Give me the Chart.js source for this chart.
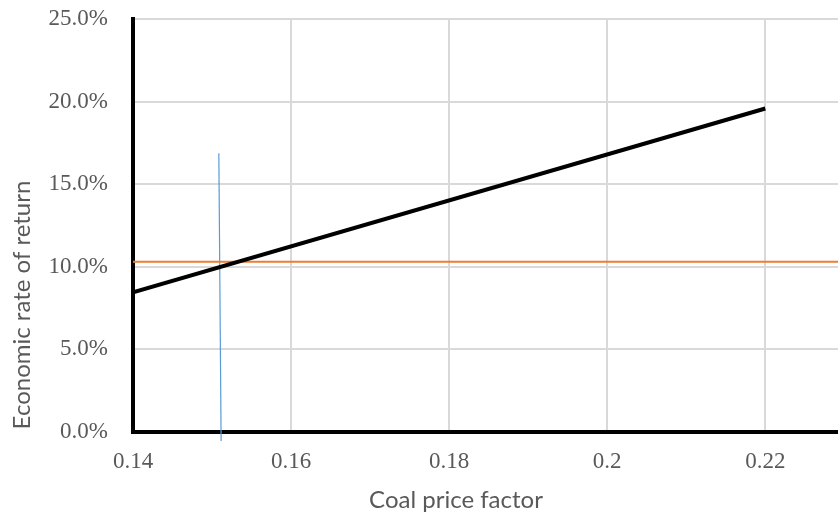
<!DOCTYPE html>
<html>
<head>
<meta charset="utf-8">
<script src="https://cdn.jsdelivr.net/npm/chart.js@4/dist/chart.umd.min.js"></script>
<style>
  body { margin: 0; background: #fff; }
  #wrap { width: 838px; height: 515px; }
</style>
</head>
<body>
<div id="wrap"><canvas id="myChart" width="838" height="515"></canvas></div>
<script>
// data
const coalFactor = [0.14, 0.22];
const returnRate = [8.45, 19.58];
const hurdleX = [0.14, 0.2292];
const hurdleRate = [10.3, 10.3];
const breakevenX = [0.15086, 0.15115];
const breakevenY = [16.87, -0.55];
const xTicks = [0.14, 0.16, 0.18, 0.2, 0.22];
const yTicks = [0, 5, 10, 15, 20, 25];

function toPoints(xs, ys) {
    return xs.map((x, i) => ({ x: x, y: ys[i] }));
}

// axis titles sit off-centre in the original, so draw them by hand
const axisTitles = {
    id: 'axisTitles',
    afterDraw(chart) {
        const ctx = chart.ctx;
        ctx.save();
        ctx.fillStyle = '#595959';
        ctx.font = '24px Lato';
        ctx.textAlign = 'center';
        ctx.textBaseline = 'middle';
        ctx.fillText('Coal price factor', 456, 500);
        ctx.translate(22, 305);
        ctx.rotate(-Math.PI / 2);
        ctx.fillText('Economic rate of return', 0, 0);
        ctx.restore();
    }
};

const ctx = document.getElementById('myChart').getContext('2d');
const myChart = new Chart(ctx, {
    type: 'scatter',
    data: {
        datasets: [{
            label: 'Economic rate of return',
            data: toPoints(coalFactor, returnRate),
            showLine: true,
            borderColor: '#000000',
            borderWidth: 4,
            pointRadius: 0
        }, {
            label: 'Hurdle rate',
            data: toPoints(hurdleX, hurdleRate),
            showLine: true,
            borderColor: '#ED7D31',
            borderWidth: 2,
            pointRadius: 0
        }, {
            label: 'Break-even',
            data: toPoints(breakevenX, breakevenY),
            showLine: true,
            borderColor: '#5B9BD5',
            borderWidth: 1.2,
            pointRadius: 0,
            clip: false
        }]
    },
    options: {
        responsive: false,
        animation: false,
        layout: { padding: { top: 19, right: 0, left: 0, bottom: 0 } },
        plugins: {
            legend: { display: false },
            tooltip: { enabled: false }
        },
        scales: {
            x: {
                type: 'linear',
                min: 0.14,
                max: 0.2292,
                afterBuildTicks: (scale) => { scale.ticks = xTicks.map(v => ({ value: v })); },
                afterFit: (scale) => { scale.height = 83; scale.paddingRight = 0; },
                grid: { color: '#d9d9d9', lineWidth: 2, drawTicks: false },
                border: { color: '#000000', width: 4 },
                ticks: {
                    padding: 16,
                    color: '#595959',
                    font: { family: 'Liberation Serif', size: 23 },
                    callback: (v) => String(v)
                }
            },
            y: {
                min: 0,
                max: 25,
                afterBuildTicks: (scale) => { scale.ticks = yTicks.map(v => ({ value: v })); },
                afterFit: (scale) => { scale.width = 133; scale.paddingTop = 0; scale.paddingBottom = 0; },
                grid: { color: '#d9d9d9', lineWidth: 2, drawTicks: false },
                border: { color: '#000000', width: 4 },
                ticks: {
                    padding: 25,
                    color: '#595959',
                    font: { family: 'Liberation Serif', size: 23 },
                    callback: (v) => v.toFixed(1) + '%'
                }
            }
        }
    },
    plugins: [axisTitles]
});
</script>
</body>
</html>
